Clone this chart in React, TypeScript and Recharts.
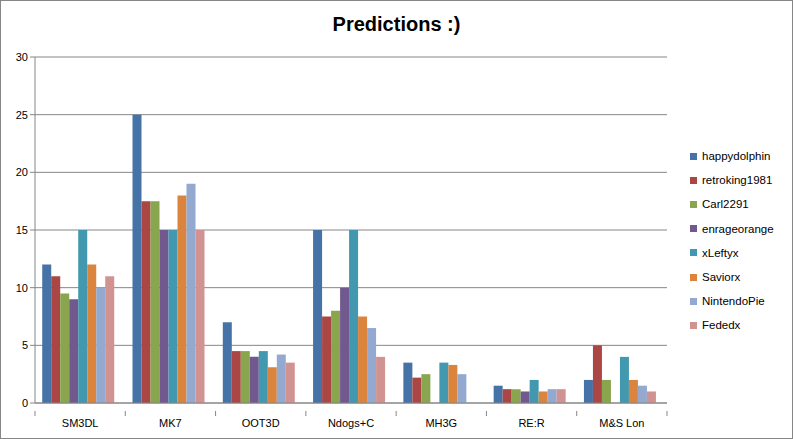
import React from 'react';
import { BarChart, Bar, XAxis, YAxis, CartesianGrid } from 'recharts';

const games = ['SM3DL', 'MK7', 'OOT3D', 'Ndogs+C', 'MH3G', 'RE:R', 'M&S Lon'];

const happydolphin = [12, 25, 7, 15, 3.5, 1.5, 2];
const retroking1981 = [11, 17.5, 4.5, 7.5, 2.2, 1.2, 5];
const carl2291 = [9.5, 17.5, 4.5, 8, 2.5, 1.2, 2];
const enrageorange = [9, 15, 4, 10, 0, 1, 0];
const xLeftyx = [15, 15, 4.5, 15, 3.5, 2, 4];
const saviorx = [12, 18, 3.1, 7.5, 3.3, 1, 2];
const nintendoPie = [10, 19, 4.2, 6.5, 2.5, 1.2, 1.5];
const fededx = [11, 15, 3.5, 4, 0, 1.2, 1];

const yTicks = [0, 5, 10, 15, 20, 25, 30];

const series = [
  { key: 'happydolphin', values: happydolphin, color: '#4572A7' },
  { key: 'retroking1981', values: retroking1981, color: '#AA4643' },
  { key: 'Carl2291', values: carl2291, color: '#89A54E' },
  { key: 'enrageorange', values: enrageorange, color: '#71588F' },
  { key: 'xLeftyx', values: xLeftyx, color: '#4198AF' },
  { key: 'Saviorx', values: saviorx, color: '#DB843D' },
  { key: 'NintendoPie', values: nintendoPie, color: '#93A9CF' },
  { key: 'Fededx', values: fededx, color: '#D19392' },
];

const data = games.map((game, i) => {
  const row: Record<string, string | number> = { game };
  series.forEach((s) => {
    row[s.key] = s.values[i];
  });
  return row;
});

const FONT = '"Liberation Sans", "DejaVu Sans", sans-serif';
const AXIS = '#868686';

const CHART_W = 791;
const CHART_H = 437;
const MARGIN = { top: 56, right: 125, bottom: 5, left: 0 };
const Y_WIDTH = 34;
const X_HEIGHT = 30;
const BAND = (CHART_W - MARGIN.left - MARGIN.right - Y_WIDTH) / games.length;

// category labels plus tick marks on the category boundaries (Excel style)
const XTick = ({ x, y, payload, index }: any) => {
  return (
    <g>
      <line x1={x - BAND / 2} x2={x - BAND / 2} y1={y} y2={y + 5} stroke={AXIS} />
      {index === games.length - 1 && (
        <line x1={x + BAND / 2} x2={x + BAND / 2} y1={y} y2={y + 5} stroke={AXIS} />
      )}
      <text x={x} y={y + 16} textAnchor="middle" fontSize={11} fill="#000" fontFamily={FONT}>
        {payload.value}
      </text>
    </g>
  );
};

export default function App() {
  return (
    <div
      style={{
        position: 'absolute',
        left: 0,
        top: 0,
        width: 793,
        height: 439,
        boxSizing: 'border-box',
        border: `1px solid ${AXIS}`,
        background: '#fff',
      }}
    >
      <div
        style={{
          position: 'absolute',
          top: 12,
          width: '100%',
          textAlign: 'center',
          fontFamily: FONT,
          fontWeight: 'bold',
          fontSize: 20,
          color: '#000',
        }}
      >
        Predictions :)
      </div>
      <div
        style={{
          position: 'absolute',
          left: 689,
          top: 143,
          fontFamily: FONT,
          fontSize: 11.5,
          color: '#000',
        }}
      >
        {series.map((s) => (
          <div key={s.key} style={{ display: 'flex', alignItems: 'center', height: 24.2 }}>
            <span style={{ width: 7, height: 7, background: s.color, marginRight: 5, display: 'inline-block' }} />
            <span>{s.key}</span>
          </div>
        ))}
      </div>
      <BarChart
        width={CHART_W}
        height={CHART_H}
        data={data}
        margin={MARGIN}
        barGap={0}
        barCategoryGap="8%"
      >
        <CartesianGrid vertical={false} stroke={AXIS} />
        <XAxis
          dataKey="game"
          height={X_HEIGHT}
          stroke={AXIS}
          tickLine={false}
          tick={<XTick />}
          interval={0}
        />
        <YAxis
          width={Y_WIDTH}
          domain={[0, 30]}
          ticks={yTicks}
          stroke={AXIS}
          tickSize={5}
          tick={{ fill: '#000', fontSize: 11, fontFamily: FONT }}
        />
        {series.map((s) => (
          <Bar key={s.key} dataKey={s.key} fill={s.color} isAnimationActive={false} />
        ))}
      </BarChart>
    </div>
  );
}
